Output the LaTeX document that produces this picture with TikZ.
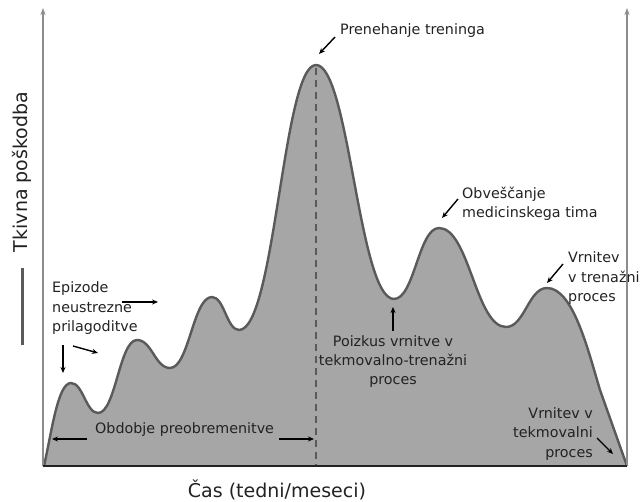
\documentclass[tikz,border=0pt]{standalone}
\usepackage{fontspec}
\setmainfont{DejaVu Sans}
\usetikzlibrary{arrows.meta}
\definecolor{areafill}{HTML}{A6A6A6}
\definecolor{curveline}{HTML}{5A5A5A}
\definecolor{axisgray}{HTML}{8C8C8C}
\definecolor{txt}{HTML}{222222}
\tikzset{
  lbl/.style={inner sep=0pt, text=txt, font=\fontsize{14.3}{19.5}\selectfont},
  axlbl/.style={inner sep=0pt, text=txt, font=\fontsize{19}{22}\selectfont},
  pointer/.style={draw=black, line width=1.4pt, -{Stealth[length=6pt,width=5pt]}},
  axisline/.style={draw=axisgray, line width=1.6pt, -{Stealth[length=7pt,width=5pt]}},
}
\begin{document}
\begin{tikzpicture}[x=1pt,y=-1pt]
\useasboundingbox (0,0) rectangle (640,502);
% area
\fill[areafill] (44,466) .. controls (52,430) and (58,383) .. (71,383)
 .. controls (83,383) and (86,413) .. (98,413)
 .. controls (115.6,413) and (119.4,340) .. (137,340)
 .. controls (151.9,340) and (155.1,368) .. (170,368)
 .. controls (188.9,368) and (193.1,297) .. (212,297)
 .. controls (224.2,297) and (226.8,330) .. (239,330)
 .. controls (275,330) and (283,65) .. (316,65)
 .. controls (349,65) and (358.9,299) .. (394,299)
 .. controls (414.3,299) and (418.7,228) .. (439,228)
 .. controls (469.2,228) and (475.8,327) .. (506,327)
 .. controls (524.5,327) and (528.5,288) .. (547,288)
 .. controls (573,288) and (588,350) .. (600,390)
 -- (627,466) -- cycle;
% dashed line
\coordinate (dtop) at (316,68);
\coordinate (dbot) at (316,466);
\draw[draw=curveline, line width=1.6pt, dash pattern=on 7pt off 5pt] (dtop) -- (dbot);
% curve
\draw[curveline, line width=2.4pt, line join=round] (44,466) .. controls (52,430) and (58,383) .. (71,383)
 .. controls (83,383) and (86,413) .. (98,413)
 .. controls (115.6,413) and (119.4,340) .. (137,340)
 .. controls (151.9,340) and (155.1,368) .. (170,368)
 .. controls (188.9,368) and (193.1,297) .. (212,297)
 .. controls (224.2,297) and (226.8,330) .. (239,330)
 .. controls (275,330) and (283,65) .. (316,65)
 .. controls (349,65) and (358.9,299) .. (394,299)
 .. controls (414.3,299) and (418.7,228) .. (439,228)
 .. controls (469.2,228) and (475.8,327) .. (506,327)
 .. controls (524.5,327) and (528.5,288) .. (547,288)
 .. controls (573,288) and (588,350) .. (600,390)
 -- (627,466);
% axes
\coordinate (o) at (43,466);
\coordinate (ytop) at (43,8);
\coordinate (r) at (627,466);
\coordinate (rtop) at (627,8);
\draw[axisline] (o) -- (ytop);
\draw[axisline] (r) -- (rtop);
\draw[draw=txt, line width=2pt] (o) -- (r);
% axis labels
\node[axlbl, anchor=base] (xl) at (277,497) {Čas (tedni/meseci)};
\node[axlbl, anchor=center, rotate=90] (yl) at (22,172) {Tkivna poškodba};
\coordinate (lega) at (22,268);
\coordinate (legb) at (22,345);
\draw[curveline, line width=3pt] (lega) -- (legb);
% labels
\node[lbl, anchor=base west] (stop) at (340,35) {Prenehanje treninga};
\coordinate (a1s) at (335,37); \coordinate (a1e) at (319,54);
\draw[pointer] (a1s) -- (a1e);

\node[lbl, anchor=base west, align=left] (med) at (462,218) {Obveščanje\\medicinskega tima};
\coordinate (a2s) at (458,199); \coordinate (a2e) at (442,218);
\draw[pointer] (a2s) -- (a2e);

\node[lbl, anchor=base west, align=left] (vrt) at (568,302) {Vrnitev\\v trenažni\\proces};
\coordinate (a3s) at (563,264); \coordinate (a3e) at (547,283);
\draw[pointer] (a3s) -- (a3e);

\node[lbl, anchor=base, align=center] (poiz) at (393,385) {Poizkus vrnitve v\\tekmovalno-trenažni\\proces};
\coordinate (a4s) at (393,331); \coordinate (a4e) at (393,307);
\draw[pointer] (a4s) -- (a4e);

\node[lbl, anchor=base west, align=left] (epi) at (52,332) {Epizode\\neustrezne\\prilagoditve};
\coordinate (a5s) at (122,302); \coordinate (a5e) at (158,302);
\draw[pointer] (a5s) -- (a5e);
\coordinate (a6s) at (73,346); \coordinate (a6e) at (98,353);
\draw[pointer] (a6s) -- (a6e);
\coordinate (a7s) at (63,345); \coordinate (a7e) at (63,373);
\draw[pointer] (a7s) -- (a7e);

\node[lbl, anchor=base west] (obd) at (95,434) {Obdobje preobremenitve};
\coordinate (a8s) at (87,439); \coordinate (a8e) at (52,439);
\draw[pointer] (a8s) -- (a8e);
\coordinate (a9s) at (279,439); \coordinate (a9e) at (314,439);
\draw[pointer] (a9s) -- (a9e);

\node[lbl, anchor=base east, align=right] (tek) at (593,457) {Vrnitev v\\tekmovalni\\proces};
\coordinate (a10s) at (597,438); \coordinate (a10e) at (613,454);
\draw[pointer] (a10s) -- (a10e);
\end{tikzpicture}
\end{document}
